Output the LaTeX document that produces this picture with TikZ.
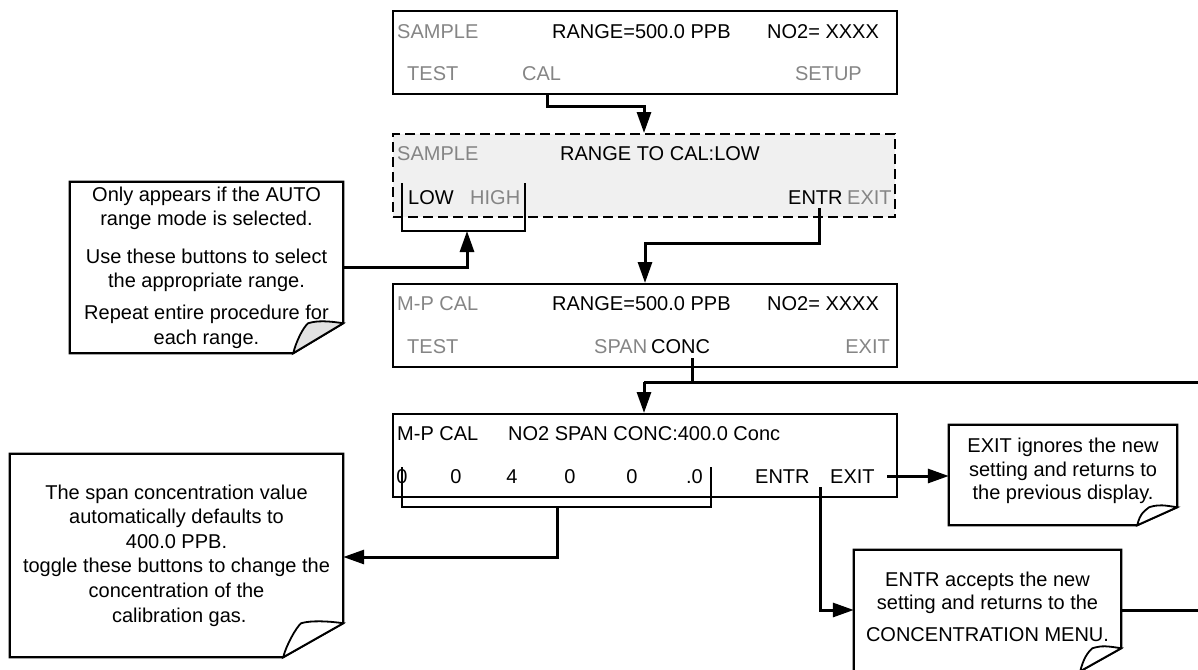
\documentclass[tikz,border=0pt]{standalone}
\usepackage{fontspec}
\setmainfont{Liberation Sans}
\usetikzlibrary{arrows.meta,calc}
\definecolor{txtgray}{HTML}{858585}
\definecolor{boxfill}{HTML}{F0F0F0}
\definecolor{flapfill}{HTML}{E2E2E2}
\newcommand{\foldnote}[4]{%
  \draw[line width=2.2pt] (#1.north west) -- (#1.north east) -- ($(#1.south east)+(0,-#3)$) -- ($(#1.south east)+(-#2,0)$) -- (#1.south west) -- cycle;
  \draw[line width=1.8pt, fill=#4] ($(#1.south east)+(-#2,0)$) .. controls +(3,-12) and +(-5,4) .. ($(#1.south east)+({-0.7*#2},{-#3})$) .. controls +(10,-3) and +(-14,-2) .. ($(#1.south east)+(0,-#3)$) -- cycle;
}
\begin{document}
\begin{tikzpicture}[x=1pt,y=-1pt,
  lbl/.style={anchor=base west, inner sep=0pt, font=\fontsize{20}{24}\selectfont},
  lblr/.style={lbl, anchor=base east},
  lblc/.style={lbl, anchor=base},
  gr/.style={text=txtgray},
  panel/.style={draw, line width=2.2pt, inner sep=0pt, anchor=north west},
  brk/.style={line width=2.2pt},
  conn/.style={line width=3pt},
  arr/.style={conn, -{Triangle[length=21pt,width=14pt]}},
  note/.style={align=center, inner sep=0pt, font=\fontsize{20}{24.6}\selectfont}]
\useasboundingbox (0,0) rectangle (1198,669);
\clip (0,0) rectangle (1198,669);

% panel 1
\node[panel, minimum width=504pt, minimum height=83pt] (p1) at (392,10) {};
\node[lbl, gr] (p1a) at (397,39) {SAMPLE};
\node[lbl] (p1b) at (552,39) {RANGE=500.0 PPB};
\node[lbl] (p1c) at (767,39) {NO2= XXXX};
\node[lbl, gr] (p1d) at (407,81) {TEST};
\node[lbl, gr] (cal) at (522,81) {CAL};
\node[lblr, gr] (p1f) at (862,81) {SETUP};

% panel 2 (dashed)
\node[panel, dash pattern=on 10pt off 5pt, fill=boxfill, minimum width=502pt, minimum height=83pt] (p2) at (392,133) {};
\node[lbl, gr] (p2a) at (397,160) {SAMPLE};
\node[lbl] (p2b) at (560,160) {RANGE TO CAL:LOW};
\node[lbl] (low) at (408,204) {LOW};
\node[lbl, gr] (high) at (470,204) {HIGH};
\node[lbl] (entr2) at (788,204) {ENTR};
\node[lbl, gr] (exit2) at (847,204) {EXIT};

% panel 3
\node[panel, minimum width=504pt, minimum height=83pt] (p3) at (392,283) {};
\node[lbl, gr] (p3a) at (397,310) {M-P CAL};
\node[lbl] (p3b) at (552,310) {RANGE=500.0 PPB};
\node[lbl] (p3c) at (767,310) {NO2= XXXX};
\node[lbl, gr] (p3d) at (407,353) {TEST};
\node[lbl, gr] (span) at (594,353) {SPAN};
\node[lbl] (conc) at (651,353) {CONC};
\node[lblr, gr] (exit3) at (890,353) {EXIT};

% panel 4
\node[panel, minimum width=504pt, minimum height=83pt] (p4) at (392,413) {};
\node[lbl] (p4a) at (397,440) {M-P CAL};
\node[lbl] (p4b) at (508,440) {NO2 SPAN CONC:400.0 Conc};
\node[lblc] (d1) at (402,483) {0};
\node[lblc] (d2) at (456,483) {0};
\node[lblc] (d3) at (512,483) {4};
\node[lblc] (d4) at (570,483) {0};
\node[lblc] (d5) at (632,483) {0};
\node[lblr] (d6) at (703,483) {.0};
\node[lbl] (entr4) at (755,483) {ENTR};
\node[lbl] (exit4) at (830,483) {EXIT};

% callouts
\node[note, minimum width=273pt, minimum height=171pt] (c1) at (206.5,267.5)
  {Only appears if the AUTO\\ range mode is selected.\\[13pt] Use these buttons to select\\ the appropriate range.\\[7pt] Repeat entire procedure for\\ each range.};
\foldnote{c1}{50}{30}{flapfill}

\node[note, minimum width=333pt, minimum height=203pt] (c2) at (176.5,555.5)
  {The span concentration value\\ automatically defaults to\\ 400.0 PPB.\\ toggle these buttons to change the\\ concentration of the\\ \ calibration gas.};
\foldnote{c2}{60}{34}{white}

\node[note, font=\fontsize{20}{23.5}\selectfont, minimum width=228pt, minimum height=100pt] (c3) at (1063,475)
  {EXIT ignores the new\\ setting and returns to\\ the previous display.\rule[-12pt]{0pt}{0pt}};
\foldnote{c3}{40}{18}{white}

\node[note, font=\fontsize{20}{23}\selectfont, minimum width=267pt, minimum height=121pt] (c4) at (987.5,610.5)
  {ENTR accepts the new\\ setting and returns to the\\[9pt] CONCENTRATION MENU.\rule[-7pt]{0pt}{0pt}};
\foldnote{c4}{41}{23}{white}

% connectors
\draw[arr] (p1.south -| 547,0) -- (547,106) -| (p2.north -| 644,0);
\draw[brk] (402,183) -- (402,231) -- (525,231) -- (525,183);
\draw[arr] (c1.east |- 0,267) -| (467,231);
\draw[arr] (819,208) -- (819,243) -| (p3.north -| 645,0);
\draw[conn] (692,358) -- (692,382);
\draw[conn] (644,382) -- (1198,382);
\draw[arr] (644,382) -- (p4.north -| 644,0);
\draw[brk] (402,467) -- (402,507) -- (711,507) -- (711,467);
\draw[arr] (557,507) |- (c2.east |- 0,557);
\draw[arr] (887,476) -- (c3.west |- 0,476);
\draw[arr] (820,487) |- (c4.west |- 0,610);
\draw[conn] (c4.east |- 0,610) -- (1198,610);
\end{tikzpicture}
\end{document}
